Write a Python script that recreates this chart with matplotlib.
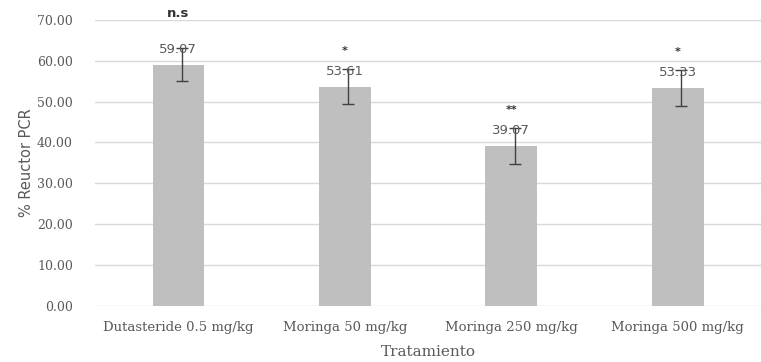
import numpy as np
import matplotlib.pyplot as plt

# ============================================================
# Data
# ============================================================
categories = ["Dutasteride 0.5 mg/kg", "Moringa 50 mg/kg",
              "Moringa 250 mg/kg", "Moringa 500 mg/kg"]
values     = [59.07, 53.61, 39.07, 53.33]
errors     = [4.0, 4.3, 4.4, 4.3]
signif     = ["n.s", "*", "**", "*"]
yticks     = [0, 10, 20, 30, 40, 50, 60, 70]

GREY_TXT = "#595959"
BAR_COL  = "#bfbfbf"

fig = plt.figure(figsize=(7.61, 3.62), dpi=100)
ax = fig.add_axes([0.125, 0.155, 0.875, 0.79])

x = np.arange(len(categories))
ax.bar(x, values, width=0.31, color=BAR_COL, zorder=2)
ax.errorbar(x + 0.02, values, yerr=errors, fmt="none", ecolor="#404040",
            elinewidth=1.0, capsize=4, capthick=1.0, zorder=3)

# value labels + significance marks
for xi, v, s in zip(x, values, signif):
    ax.text(xi, v + 2.2, f"{v:.2f}", ha="center", va="bottom",
            fontsize=9.5, color=GREY_TXT, family="DejaVu Sans", zorder=4)
    if s == "n.s":
        ax.text(xi, v + 10.8, s, ha="center", va="bottom", fontsize=9.5,
                fontweight="bold", color="#333333", family="DejaVu Sans",
                clip_on=False)
    else:
        ax.text(xi, v + 7.6, s, ha="center", va="bottom", fontsize=8,
                fontweight="bold", color="#333333", family="DejaVu Sans")

ax.set_ylim(0, 70)
ax.set_xlim(-0.5, len(categories) - 0.5)
ax.set_yticks(yticks)
ax.set_yticklabels([f"{t:.2f}" for t in yticks], family="DejaVu Serif",
                   fontsize=9, color=GREY_TXT)
ax.set_xticks(x)
ax.set_xticklabels(categories, family="DejaVu Serif", fontsize=9.5,
                   color=GREY_TXT)
ax.tick_params(length=0)
ax.tick_params(axis="x", pad=11)
ax.tick_params(axis="y", pad=16)

ax.grid(axis="y", color="#d9d9d9", linewidth=1.0, zorder=0)
ax.set_axisbelow(True)
for sp in ax.spines.values():
    sp.set_visible(False)

ax.set_ylabel("% Reuctor PCR", fontsize=10.5, color=GREY_TXT,
              family="DejaVu Sans", labelpad=2)
ax.set_xlabel("Tratamiento", fontsize=11, color=GREY_TXT,
              family="DejaVu Serif", labelpad=8)

fig.savefig("out.png", dpi=100)
